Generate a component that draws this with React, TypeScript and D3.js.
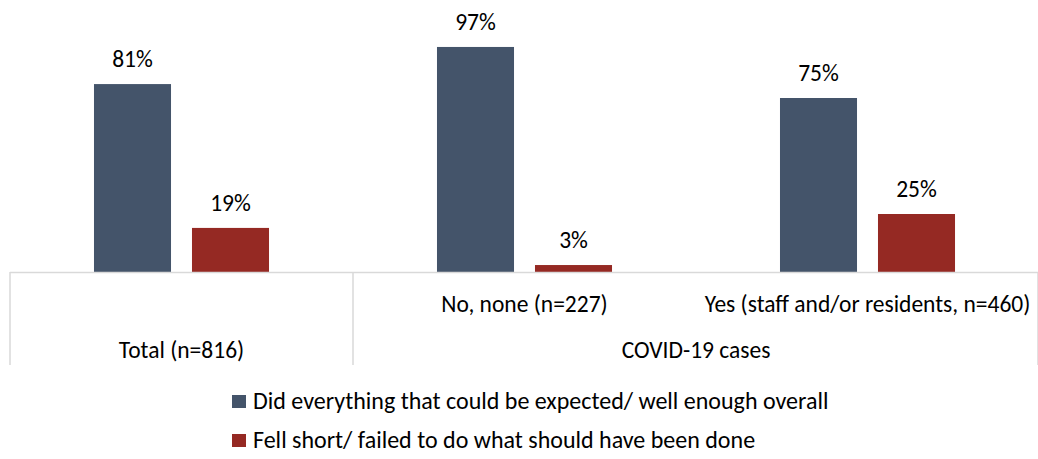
import React from "react";
import * as d3 from "d3";

const categories = ["Total (n=816)", "No, none (n=227)", "Yes (staff and/or residents, n=460)"];
const groupLabels = ["", "COVID-19 cases"];
const seriesNames = [
  "Did everything that could be expected/ well enough overall",
  "Fell short/ failed to do what should have been done",
];
const didEverything = [81, 97, 75];
const fellShort = [19, 3, 25];
const colors = ["#44546A", "#952923"];

export default function App() {
  const W = 1038, H = 459;
  const left = 10, right = 1039, base = 272;
  const x = d3.scaleBand<string>().domain(categories).range([left, right]).padding(0);
  const y = d3.scaleLinear().domain([0, 100]).range([base, base - 232]);
  const inner = d3.scaleBand<number>().domain([0, 1]).range([0, x.bandwidth()]).paddingInner(0.214).paddingOuter(0.857);
  const series = [didEverything, fellShort];
  const font = "Calibri, Carlito, Lato, sans-serif";
  const fs = 23.5;
  const tickBottom = 365;
  return (
    <svg width={W} height={H} style={{ position: "absolute", left: 0, top: 0 }} fontFamily={font}>
      {series.map((vals, si) =>
        vals.map((v, ci) => {
          const bx = (x(categories[ci]) as number) + (inner(si) as number);
          return (
            <g key={`${si}-${ci}`}>
              <rect x={bx} y={y(v)} width={inner.bandwidth()} height={base - y(v)} fill={colors[si]} />
              <text x={bx + inner.bandwidth() / 2} y={y(v) - 17} textAnchor="middle" fontSize={fs} fill="#000">
                {v}%
              </text>
            </g>
          );
        })
      )}
      <line x1={left} x2={right} y1={base + 0.5} y2={base + 0.5} stroke="#D9D9D9" strokeWidth={1.5} />
      {[left, x(categories[1]) as number, right - 1].map((xx, i) => (
        <line key={i} x1={xx} x2={xx} y1={base} y2={tickBottom} stroke="#D9D9D9" strokeWidth={1.5} />
      ))}
      <text x={(x(categories[1]) as number) + x.bandwidth() / 2} y={312} textAnchor="middle" fontSize={fs}>
        {categories[1]}
      </text>
      <text x={(x(categories[2]) as number) + x.bandwidth() / 2} y={312} textAnchor="middle" fontSize={fs}>
        {categories[2]}
      </text>
      <text x={(x(categories[0]) as number) + x.bandwidth() / 2} y={358} textAnchor="middle" fontSize={fs}>
        {categories[0]}
      </text>
      <text x={(x(categories[1]) as number) + x.bandwidth()} y={358} textAnchor="middle" fontSize={fs}>
        {groupLabels[1]}
      </text>
      {seriesNames.map((name, i) => (
        <g key={name}>
          <rect x={232} y={395 + i * 39} width={14} height={13} fill={colors[i]} />
          <text x={253} y={409 + i * 39} fontSize={24}>
            {name}
          </text>
        </g>
      ))}
    </svg>
  );
}
